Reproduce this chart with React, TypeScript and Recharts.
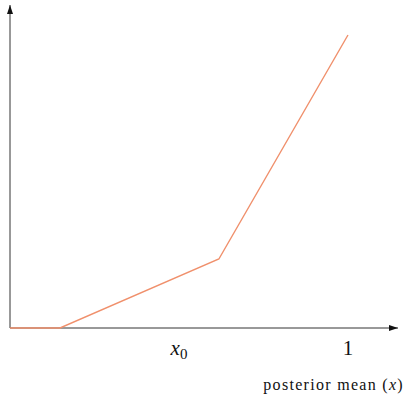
import { LineChart, Line, XAxis, YAxis, ReferenceLine, ReferenceDot } from 'recharts'

// posterior mean on x, piecewise-linear curve
const xValues = [0, 0.148, 0.618, 1]
const yValues = [0, 0, 0.69, 2.93]
const tickValues = [0.5, 1]
const tickLabels = ['x0', '1']
const xMax = 1.148
const yMax = 3.23

const data = xValues.map((x, i) => ({ x, y: yValues[i] }))

const AXIS = '#333'
const CURVE = '#f0906c'
const SERIF = 'Liberation Serif'

function Tick(props: any) {
  const { x, y, payload } = props
  const idx = tickValues.indexOf(payload.value)
  const label = tickLabels[idx]
  if (label === 'x0') {
    return (
      <text x={x} y={y + 19} textAnchor="middle" fontFamily={SERIF} fontSize={21} fill="#111">
        <tspan fontStyle="italic">x</tspan>
        <tspan fontSize={15} dy={4}>0</tspan>
      </text>
    )
  }
  return (
    <text x={x} y={y + 19} textAnchor="middle" fontFamily={SERIF} fontSize={21} fill="#111">
      {label}
    </text>
  )
}

function AxisTitle(props: any) {
  const { viewBox } = props
  const right = viewBox.x + viewBox.width + 6
  return (
    <text
      x={right}
      y={viewBox.y + 62}
      textAnchor="end"
      fontFamily={SERIF}
      fontSize={16}
      letterSpacing={1.3}
      fill="#111"
    >
      posterior mean (<tspan fontStyle="italic">x</tspan>)
    </text>
  )
}

const ArrowRight = (p: any) => (
  <path d={`M${p.cx},${p.cy} L${p.cx - 9},${p.cy - 3} L${p.cx - 9},${p.cy + 3} Z`} fill="#111" />
)
const ArrowUp = (p: any) => (
  <path d={`M${p.cx},${p.cy} L${p.cx - 3},${p.cy + 9} L${p.cx + 3},${p.cy + 9} Z`} fill="#111" />
)

export default function App() {
  return (
    <div style={{ position: 'absolute', left: 0, top: 0, background: '#fff' }}>
      <LineChart width={408} height={396} data={data} margin={{ top: 5, right: 10, left: 10, bottom: 8 }}>
        <XAxis
          type="number"
          dataKey="x"
          domain={[0, xMax]}
          ticks={tickValues}
          axisLine={false}
          tickLine={false}
          height={60}
          tick={<Tick />}
          label={<AxisTitle />}
        />
        <YAxis type="number" domain={[0, yMax]} hide />
        <ReferenceLine x={0} stroke={AXIS} strokeWidth={1} />
        <ReferenceLine y={0} stroke={AXIS} strokeWidth={1} />
        <ReferenceDot x={xMax} y={0} r={0} shape={ArrowRight} />
        <ReferenceDot x={0} y={yMax} r={0} shape={ArrowUp} />
        <Line
          type="linear"
          dataKey="y"
          stroke={CURVE}
          strokeWidth={1.4}
          dot={false}
          isAnimationActive={false}
        />
      </LineChart>
    </div>
  )
}
